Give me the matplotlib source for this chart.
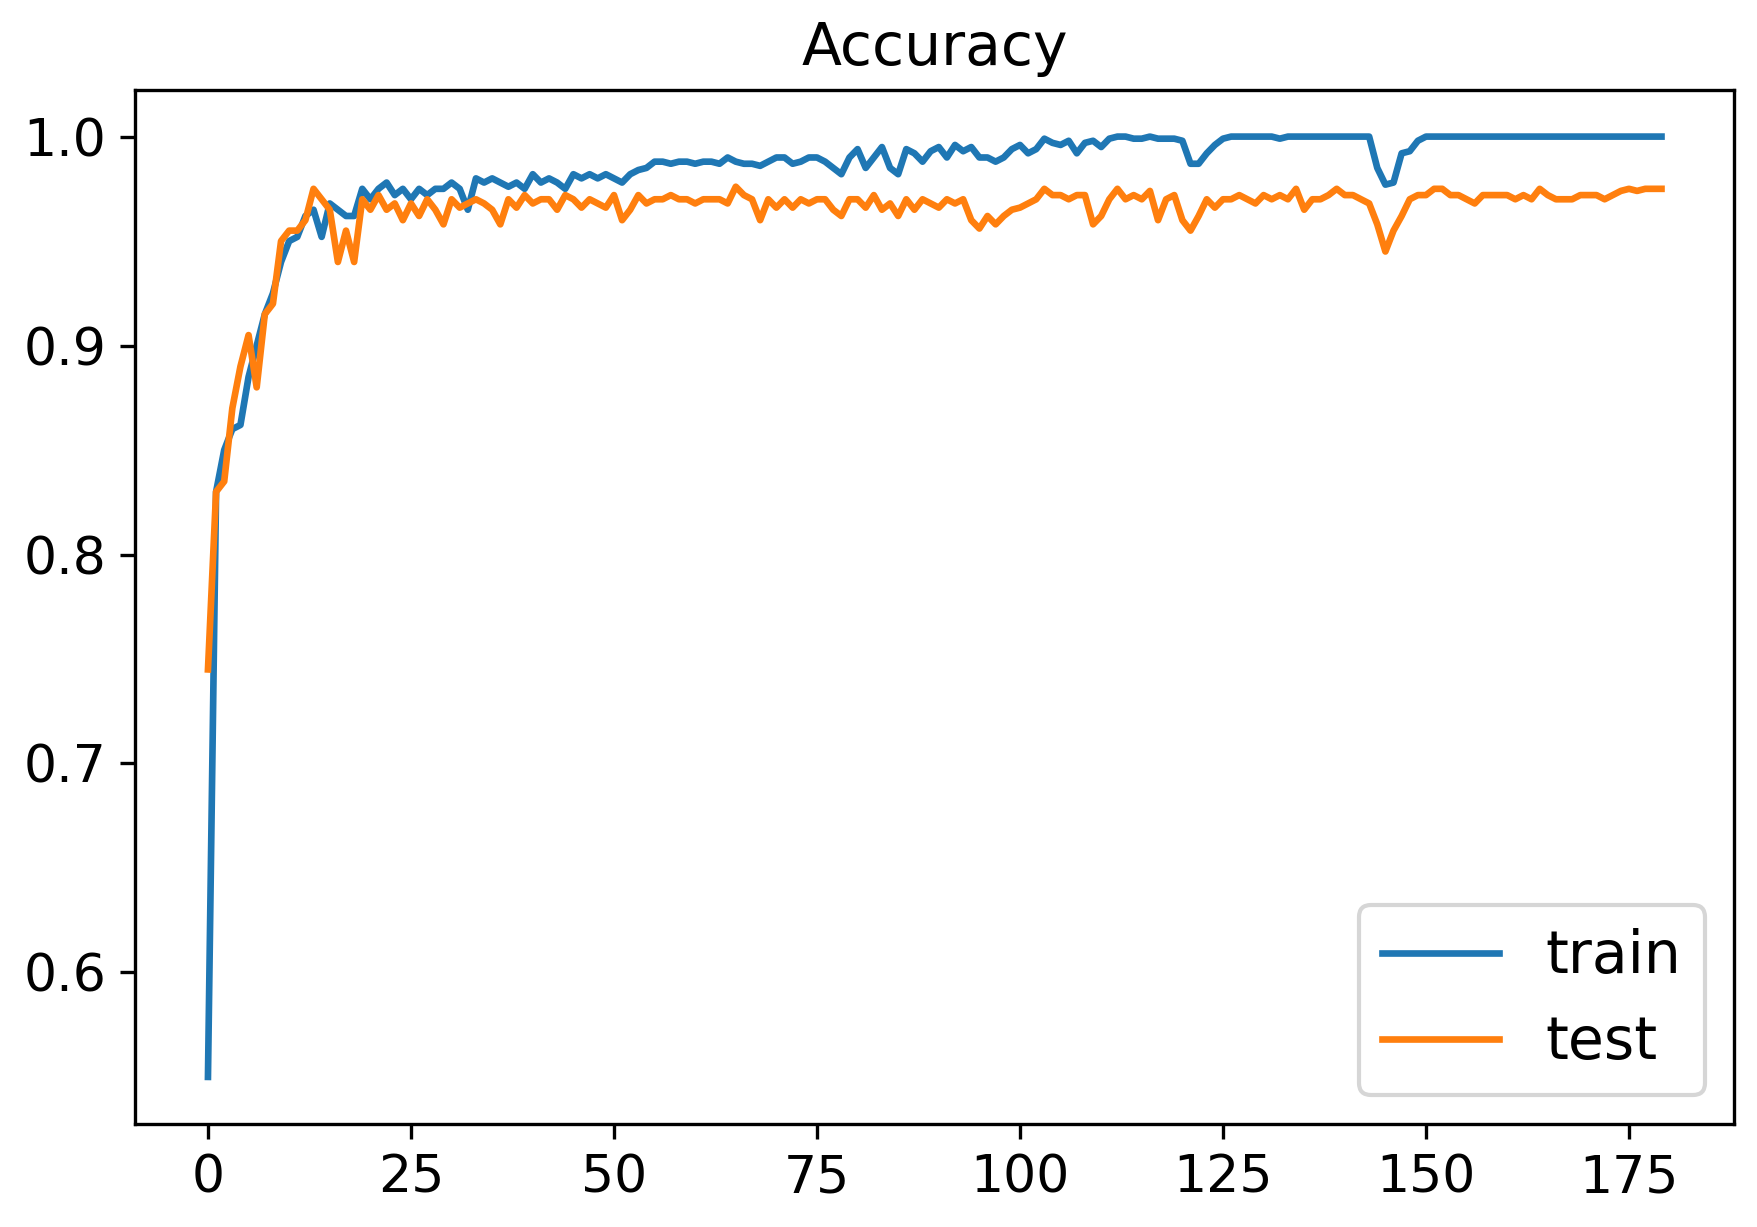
import matplotlib
matplotlib.use("Agg")
import matplotlib.pyplot as plt

train = [.55,.83,.85,.86,.862,.885,.90,.915,.925,.94,
.95,.952,.962,.965,.952,.968,.965,.962,.962,.975,
.97,.975,.978,.972,.975,.97,.975,.972,.975,.975,
.978,.975,.965,.98,.978,.98,.978,.976,.978,.975,
.982,.978,.98,.978,.975,.982,.98,.982,.98,.982,
.98,.978,.982,.984,.985,.988,.988,.987,.988,.988,
.987,.988,.988,.987,.99,.988,.987,.987,.986,.988,
.99,.99,.987,.988,.99,.99,.988,.985,.982,.99,
.994,.985,.99,.995,.985,.982,.994,.992,.988,.993,
.995,.99,.996,.993,.995,.99,.99,.988,.99,.994,
.996,.992,.994,.999,.997,.996,.998,.992,.997,.998,
.995,.999,1.0,1.0,.999,.999,1.0,.999,.999,.999,
.998,.987,.987,.992,.996,.999,1.0,1.0,1.0,1.0,
1.0,1.0,.999,1.0,1.0,1.0,1.0,1.0,1.0,1.0,
1.0,1.0,1.0,1.0,.985,.977,.978,.992,.993,.998,
1.0,1.0,1.0,1.0,1.0,1.0,1.0,1.0,1.0,1.0,
1.0,1.0,1.0,1.0,1.0,1.0,1.0,1.0,1.0,1.0,
1.0,1.0,1.0,1.0,1.0,1.0,1.0,1.0,1.0,1.0]

test = [.745,.83,.835,.87,.89,.905,.88,.915,.92,.95,
.955,.955,.96,.975,.97,.965,.94,.955,.94,.97,
.965,.972,.965,.968,.96,.968,.962,.97,.965,.958,
.97,.966,.968,.97,.968,.965,.958,.97,.966,.972,
.968,.97,.97,.965,.972,.97,.966,.97,.968,.966,
.972,.96,.965,.972,.968,.97,.97,.972,.97,.97,
.968,.97,.97,.97,.968,.976,.972,.97,.96,.97,
.966,.97,.966,.97,.968,.97,.97,.965,.962,.97,
.97,.966,.972,.965,.968,.962,.97,.965,.97,.968,
.966,.97,.968,.97,.96,.956,.962,.958,.962,.965,
.966,.968,.97,.975,.972,.972,.97,.972,.972,.958,
.962,.97,.975,.97,.972,.97,.974,.96,.97,.972,
.96,.955,.962,.97,.966,.97,.97,.972,.97,.968,
.972,.97,.972,.97,.975,.965,.97,.97,.972,.975,
.972,.972,.97,.968,.958,.945,.955,.962,.97,.972,
.972,.975,.975,.972,.972,.97,.968,.972,.972,.972,
.972,.97,.972,.97,.975,.972,.97,.97,.97,.972,
.972,.972,.97,.972,.974,.975,.974,.975,.975,.975]

plt.rcParams['font.size'] = 12.5
fig = plt.figure(figsize=(1757/300, 1227/300), dpi=300)
ax = fig.add_axes([0.077, 0.084, 0.910, 0.843])
ax.plot(range(len(train)), train, label="train", lw=1.6)
ax.plot(range(len(test)), test, label="test", lw=1.6)
ax.set_title("Accuracy", fontsize=14)
ax.set_xticks([0, 25, 50, 75, 100, 125, 150, 175])
ax.legend(loc="lower right", fontsize=14)
fig.savefig("out.png", dpi=300)
